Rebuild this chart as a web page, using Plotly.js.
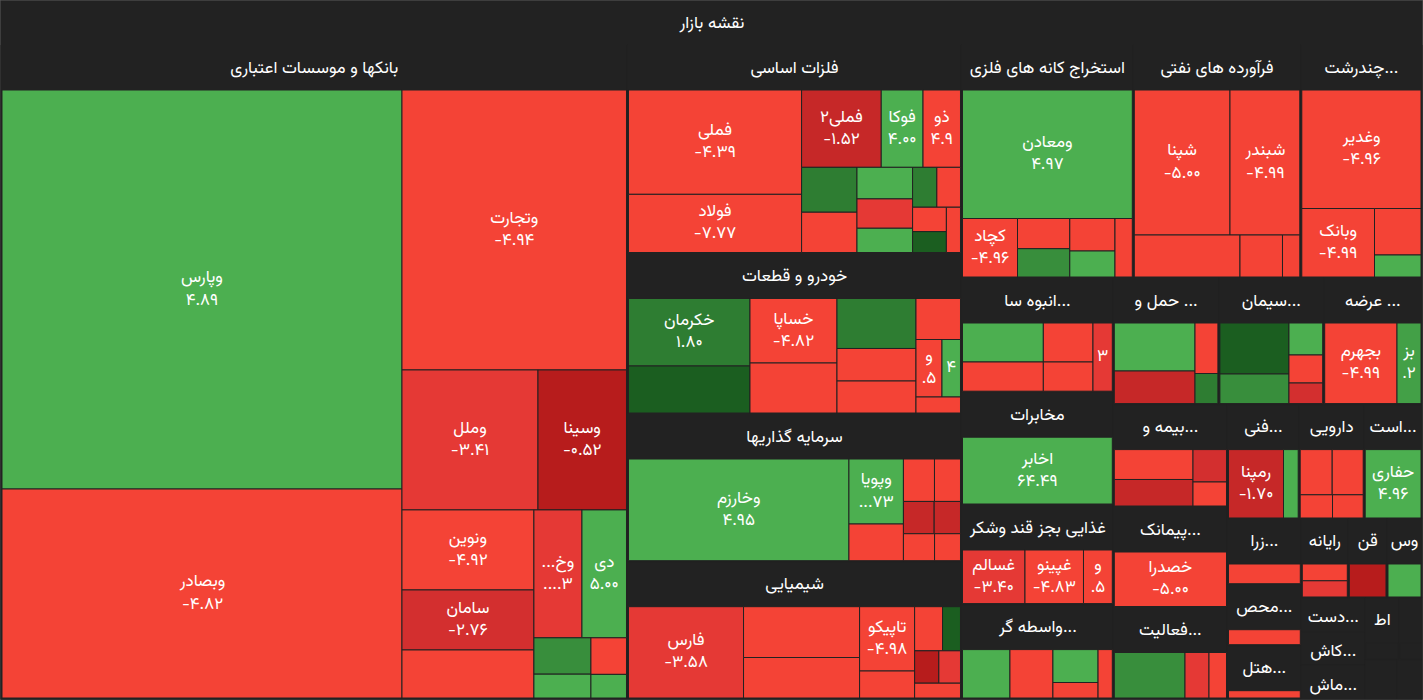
<!DOCTYPE html>
<html>
<head>
<meta charset="utf-8">
<script src="https://cdn.plot.ly/plotly-3.0.1.min.js"></script>
<style>
  html, body { margin: 0; padding: 0; background: #222222; }
  #chart { width: 1423px; height: 700px; }
</style>
</head>
<body>
<div id="chart"></div>
<script>
// ---- data ----
const rootLabel = "نقشه بازار";

const sectorNames = [
  "بانکها و موسسات اعتباری", "فلزات اساسی", "خودرو و قطعات", "سرمایه گذاریها", "شیمیایی",
  "استخراج کانه های فلزی", "فرآورده های نفتی", "چندرشت...", "انبوه سا...", "مخابرات",
  "غذایی بجز قند وشکر", "واسطه گر...", "حمل و ...", "سیمان...", "عرضه ...",
  "بیمه و...", "پیمانک...", "فعالیت...", "فنی...", "دارویی",
  "است...", "زرا...", "محص...", "هتل...", "رایانه",
  "قن", "وس", "دست...", "کاش...", "ماش...",
  "اط", "", "", ""
];
const sectorSizes = [
  409731, 69639, 53607, 49332, 45858,
  40029, 39028, 28240, 17336, 17123,
  15119, 14330, 13369, 13268, 12445,
  11694, 11477, 10449, 8202, 7436,
  6612, 4850, 4500, 3935, 3713,
  3057, 2765, 2176, 2144, 2144,
  2100, 1400, 1250, 977
];

// stocks: sector index, symbol, relative size inside sector, % change, shown value text
const stockSector = [
  0,0,0,0,0,0,0,0,0,0,0,0,0,0,
  1,1,1,1,1,1,1,1,1,1,1,1,1,1,1,
  2,2,2,2,2,2,2,2,2,2,2,
  3,3,3,3,3,3,3,3,3,
  4,4,4,4,4,4,4,4,4,4,
  5,5,5,5,5,5,5,
  6,6,6,6,6,
  7,7,7,7,
  8,8,8,8,8,
  9,
  10,10,10,
  11,11,11,11,11,
  12,12,12,12,
  13,13,13,13,13,
  14,14,
  15,15,15,15,
  16,
  17,17,17,
  18,18,
  19,19,19,19,
  20,21,22,23,
  24,24,
  25,26,27,28,29,30,31,32,33
];
const stockNames = [
  "وپارس","وبصادر","وتجارت","وملل","وسینا","ونوین","سامان","","وخ...","دی","","","","",
  "فملی","فولاد","فملی۲","فوکا","ذو","","","","","","","","","","",
  "خکرمان","","خساپا","","","","","","و","","",
  "وخارزم","وپویا","","","","","","","",
  "فارس","","","تاپیکو","","","","","","",
  "ومعادن","کچاد","","","","","",
  "شپنا","شبندر","","","",
  "وغدیر","وبانک","","",
  "","","","","",
  "اخابر",
  "غسالم","غپینو","و",
  "","","","","",
  "","","","",
  "","","","","",
  "بجهرم","بز",
  "","","","",
  "خصدرا",
  "","","",
  "رمپنا","",
  "","","","",
  "حفاری","","","",
  "","",
  "","","","","","","","",""
];
const stockWeights = [
  159600,83600,62860,19040,12390,10560,7920,6336,6144,5696,2072,1360,1300,840,
  17992,10034,6137,3219,2888,2477,2223,1748,1626,1343,964,940,821,703,637,
  8201,5711,5612,4350,3950,2568,2528,1825,1495,1064,712,
  22425,3543,2000,1318,1105,992,850,840,700,
  10500,5893,4698,3537,1485,1232,792,784,700,680,
  21819,3218,1579,1480,1469,1175,1012,
  13877,10121,4439,1785,727,
  14125,4980,2162,1023,
  3150,2360,1935,1450,1316,
  1,
  3350,3136,1544,
  2299,2081,1486,700,690,
  3874,2631,1156,689,
  3519,2042,1078,944,694,
  5827,1934,
  2353,2086,1085,804,
  1,
  3217,1092,796,
  3762,1005,
  1435,1390,743,706,
  1,1,1,1,
  733,707,
  1,1,1,1,1,1,1,1,1
];
// null = no visible tile (sector too small to show its stocks)
const stockChanges = [
  4.89,-4.82,-4.94,-3.41,-0.52,-4.92,-2.76,-4.6,-3.3,5.00,2.5,4.5,-4.5,4.5,
  -4.39,-7.77,-1.52,4.00,-4.9,1.5,-4.5,4.5,-3.5,4.5,1.5,-4.5,-4.5,0.5,-4.5,
  1.80,0.5,-4.82,-4.5,1.5,-4.5,-4.5,-4.5,-4.5,4.5,-4.5,
  4.95,4.73,-4.5,-4.5,-4.5,-1.8,-1.8,-4.5,-4.5,
  -3.58,-4.5,-4.5,-4.98,-4.5,-4.5,0.5,-0.8,-3.2,-4.5,
  4.97,-4.96,-4.5,2.5,-4.5,4.5,-4.5,
  -5.00,-4.99,-4.5,-4.5,-4.5,
  -4.96,-4.99,-4.5,4.5,
  4.5,-4.5,-4.5,-4.5,-3.3,
  64.49,
  -3.40,-4.83,-4.5,
  4.5,-4.5,4.5,-4.5,-4.5,
  4.5,-1.5,-4.5,1.5,
  0.5,2.5,4.5,-4.5,-2.5,
  -4.99,3.2,
  -4.5,-1.5,-2.5,-4.5,
  -5.00,
  2.5,-3.5,-4.5,
  -1.70,4.5,
  -4.5,-4.5,-4.5,-4.5,
  4.96,-4.5,-4.5,-4.5,
  -4.5,-3.5,
  -0.8,4.5,null,null,null,null,null,null,null
];
const stockValueTexts = [
  "۴.۸۹","-۴.۸۲","-۴.۹۴","-۳.۴۱","-۰.۵۲","-۴.۹۲","-۲.۷۶","","....۳","۵.۰۰","","","","",
  "-۴.۳۹","-۷.۷۷","-۱.۵۲","۴.۰۰","۴.۹","","","","","","","","","","",
  "۱.۸۰","","-۴.۸۲","","","","","",".۵","۴","",
  "۴.۹۵","...۷۳","","","","","","","",
  "-۳.۵۸","","","-۴.۹۸","","","","","","",
  "۴.۹۷","-۴.۹۶","","","","","",
  "-۵.۰۰","-۴.۹۹","","","",
  "-۴.۹۶","-۴.۹۹","","",
  "","","","","۳",
  "۶۴.۴۹",
  "-۳.۴۰","-۴.۸۳",".۵",
  "","","","","",
  "","","","",
  "","","","","",
  "-۴.۹۹",".۲",
  "","","","",
  "-۵.۰۰",
  "","","",
  "-۱.۷۰","",
  "","","","",
  "۴.۹۶","","","",
  "","",
  "","","","","","","","",""
];

// ---- colour scale for % change ----
const BG = "#222222";
function changeColor(c) {
  if (c === null) return BG;
  if (c >= 4) return "#4CAF50";
  if (c >= 3) return "#43A047";
  if (c >= 2) return "#388E3C";
  if (c >= 1) return "#2E7D32";
  if (c >= 0) return "#1B5E20";
  if (c > -1) return "#B71C1C";
  if (c > -2) return "#C62828";
  if (c > -3) return "#D32F2F";
  if (c > -4) return "#E53935";
  return "#F44336";
}
// names are laid out right-to-left, numbers left-to-right (as in the reference)
const rtl = s => s === "" ? "" : "\u2067" + s + "\u2069";
const ltr = s => s === "" ? "" : "\u2066" + s + "\u2069";

// ---- build hierarchy ----
const ids = ["root"], labels = [rootLabel], parents = [""], values = [0];
const texts = [rtl(rootLabel)], colors = [BG], lineColors = ["#5a5a5a"];

sectorNames.forEach((n, i) => {
  ids.push("s" + i); labels.push(n); parents.push("root"); values.push(0);
  texts.push(rtl(n)); colors.push(BG); lineColors.push(BG);
});
const weightSums = sectorNames.map(() => 0);
stockSector.forEach((s, j) => { weightSums[s] += stockWeights[j]; });
stockSector.forEach((s, j) => {
  ids.push("k" + j);
  labels.push(stockNames[j]);
  parents.push("s" + s);
  values.push(sectorSizes[s] * stockWeights[j] / weightSums[s]);
  const parts = [];
  if (stockNames[j] !== "") parts.push(rtl(stockNames[j]));
  if (stockValueTexts[j] !== "") parts.push(ltr(stockValueTexts[j]));
  texts.push(parts.join("<br>"));
  colors.push(changeColor(stockChanges[j]));
  lineColors.push(BG);
});

const FONT = "Vazirmatn, 'DejaVu Sans', 'Noto Sans', sans-serif";
const FS = 17;
const trace = {
  type: "treemap",
  ids, labels, parents, values, text: texts,
  branchvalues: "remainder",
  sort: true,
  textinfo: "text",
  textposition: "middle center",
  hoverinfo: "label",
  textfont: { family: FONT, size: FS, color: "#ffffff" },
  insidetextfont: { family: FONT, size: FS, color: "#ffffff" },
  outsidetextfont: { family: FONT, size: FS, color: "#ffffff" },
  pathbar: { visible: false },
  tiling: { packing: "squarify", squarifyratio: 1.618034, pad: 0 },
  marker: {
    colors,
    line: { width: 1, color: lineColors },
    pad: { t: 45, l: 1, r: 1, b: 1 }
  }
};

Plotly.newPlot("chart", [trace], {
  width: 1423, height: 700,
  margin: { l: 0, r: 0, t: 0, b: 0 },
  paper_bgcolor: BG,
  plot_bgcolor: BG,
  showlegend: false
}, { displayModeBar: false, staticPlot: true }).then(() => {
  // centre the group headers vertically inside their header band
  document.querySelectorAll("#chart g.slice").forEach(g => {
    const d = g.__data__;
    if (d && d.children && d.children.length) {
      const t = g.querySelector("text.slicetext");
      if (t) {
        const h = (d.y1 !== undefined && d.y0 !== undefined) ? d.y1 - d.y0 : 100;
        const dy = h < 45 ? 4.5 : 7.5;
        const tr = t.getAttribute("transform") || "";
        t.setAttribute("transform", "translate(0," + dy + ") " + tr);
      }
    }
  });
});
</script>
</body>
</html>
